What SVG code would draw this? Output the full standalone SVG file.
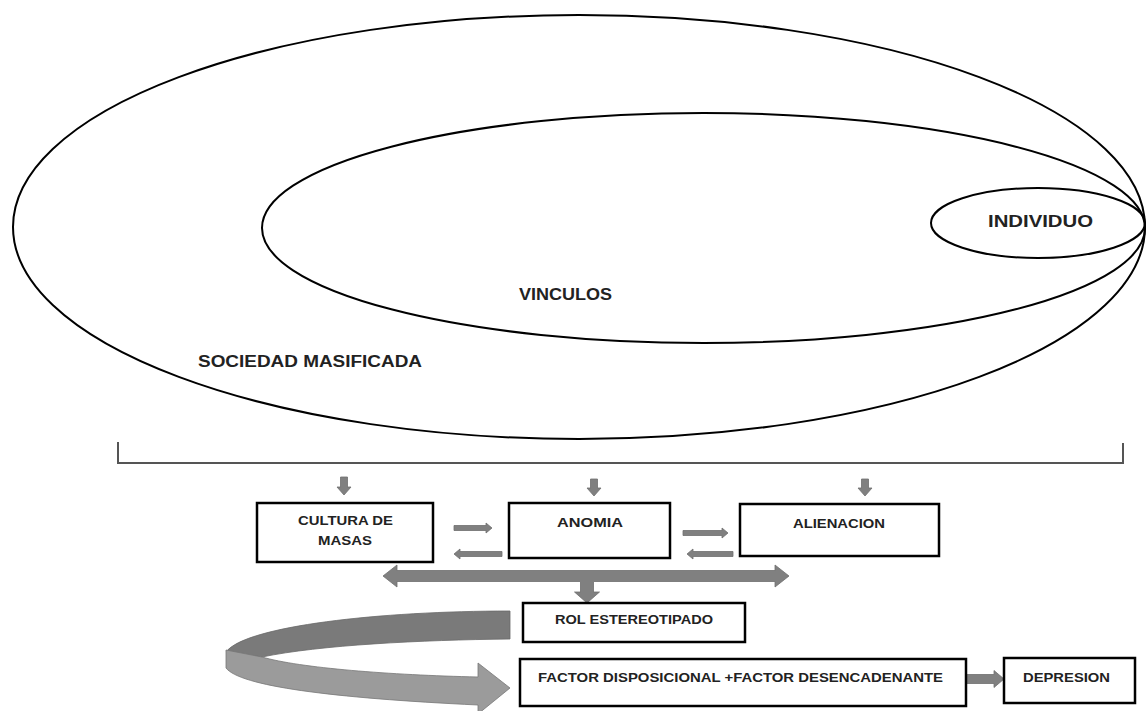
<svg xmlns="http://www.w3.org/2000/svg" width="1147" height="711" viewBox="0 0 1147 711">
<style>
.ell{fill:none;stroke:#000;stroke-width:2}
.box{fill:#fff;stroke:#000;stroke-width:2.5}
.t{font-family:"Liberation Sans",Arial,sans-serif;font-weight:bold;fill:#222}
.big{font-size:16px}
.sm{font-size:13px}
.arr{fill:#808080;stroke:#6e6e6e;stroke-width:0.8}
.brk{fill:none;stroke:#555;stroke-width:2}
</style>
<rect width="1147" height="711" fill="#fff"/>
<g id="sociedad">
<ellipse class="ell" cx="579" cy="227" rx="566" ry="212"/>
<text class="t big" x="198" y="367" textLength="224" lengthAdjust="spacingAndGlyphs">SOCIEDAD MASIFICADA</text>
</g>
<g id="vinculos">
<ellipse class="ell" cx="703.5" cy="228" rx="441.5" ry="115"/>
<text class="t big" x="519" y="300" textLength="93" lengthAdjust="spacingAndGlyphs">VINCULOS</text>
</g>
<g id="individuo">
<ellipse class="ell" cx="1038" cy="223" rx="107" ry="35"/>
<text class="t big" x="988" y="227" textLength="105" lengthAdjust="spacingAndGlyphs">INDIVIDUO</text>
</g>
<g id="connectors">
<path class="brk" d="M118,442 L118,463 L1123,463 L1123,443"/>
<polygon class="arr" points="340.5,477 347.5,477 347.5,487 351,487 344,495 337,487 340.5,487"/>
<polygon class="arr" points="590.5,479 597.5,479 597.5,488 601,488 594,496 587,488 590.5,488"/>
<polygon class="arr" points="861.5,479 868.5,479 868.5,488 872,488 865,496 858,488 861.5,488"/>
<polygon class="arr" points="454,525.5 486,525.5 486,523 492,528 486,533 486,530.5 454,530.5"/>
<polygon class="arr" points="502,551.5 460,551.5 460,549 454,554 460,559 460,556.5 502,556.5"/>
<polygon class="arr" points="683,530.5 722,530.5 722,528 728,533 722,538 722,535.5 683,535.5"/>
<polygon class="arr" points="733,551.5 693,551.5 693,549 687,554 693,559 693,556.5 733,556.5"/>
<polygon class="arr" points="383,576 397,565 397,570.5 775,570.5 775,565 789,576 775,587 775,581.5 593.5,581.5 593.5,592 599.5,592 587,603 574.5,592 580.5,592 580.5,581.5 397,581.5 397,587"/>
<path d="M510,611 C 380,611 245,626 226,652 L262,657 C 320,645 420,640 510,639 Z" fill="#7a7a7a" stroke="#6a6a6a" stroke-width="0.8"/>
<path d="M226,650 L226,668 C 240,686 330,698 478,705 L478,714 L510,688 L478,663 L478,677 C 390,675 300,668 262,657 Z" fill="#9b9b9b" stroke="#777" stroke-width="0.8"/>
<polygon class="arr" points="966,674.5 994,674.5 994,670.5 1004,679 994,687.5 994,683.5 966,683.5"/>
</g>
<g id="cultura">
<rect class="box" x="257" y="503" width="176" height="59"/>
<text class="t sm" x="298" y="525" textLength="95" lengthAdjust="spacingAndGlyphs">CULTURA DE</text>
<text class="t sm" x="318" y="545" textLength="54" lengthAdjust="spacingAndGlyphs">MASAS</text>
</g>
<g id="anomia">
<rect class="box" x="509" y="503" width="161" height="55"/>
<text class="t sm" x="557" y="527" textLength="66" lengthAdjust="spacingAndGlyphs">ANOMIA</text>
</g>
<g id="alienacion">
<rect class="box" x="740" y="504" width="199" height="52"/>
<text class="t sm" x="793" y="528" textLength="92" lengthAdjust="spacingAndGlyphs">ALIENACION</text>
</g>
<g id="rol">
<rect class="box" x="523" y="603" width="222" height="39"/>
<text class="t sm" x="555" y="624" textLength="158" lengthAdjust="spacingAndGlyphs">ROL ESTEREOTIPADO</text>
</g>
<g id="factor">
<rect class="box" x="520" y="659" width="446" height="47"/>
<text class="t sm" x="538" y="682" textLength="405" lengthAdjust="spacingAndGlyphs">FACTOR DISPOSICIONAL +FACTOR DESENCADENANTE</text>
</g>
<g id="depresion">
<rect class="box" x="1004" y="658" width="131" height="45"/>
<text class="t sm" x="1023" y="682" textLength="87" lengthAdjust="spacingAndGlyphs">DEPRESION</text>
</g>
</svg>
